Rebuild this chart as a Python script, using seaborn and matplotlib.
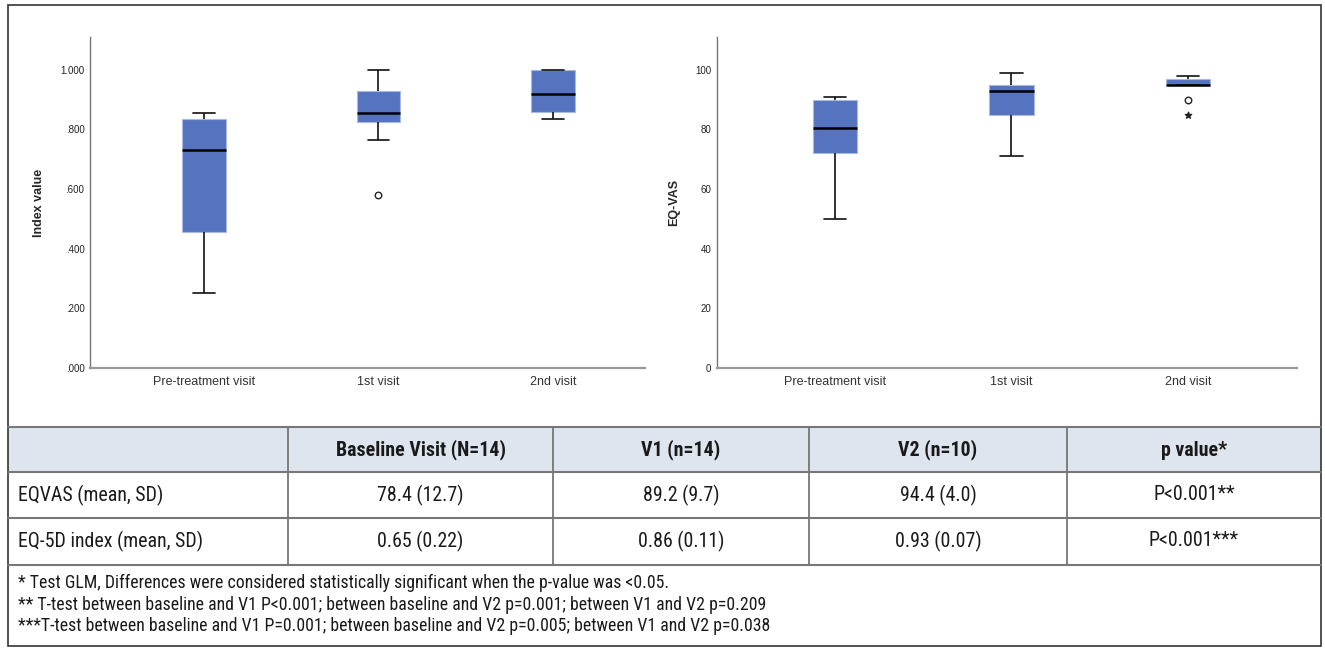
import numpy as np
import pandas as pd
import matplotlib
matplotlib.use('Agg')
import matplotlib.pyplot as plt
from matplotlib import font_manager as fm
from matplotlib.patches import Rectangle
import seaborn as sns

# ---- data -------------------------------------------------------------
visits = ['Pre-treatment visit', '1st visit', '2nd visit']

# EQ-5D index per patient (n=14, 14, 10)
index_pre = [0.25, 0.30, 0.40, 0.44, 0.50, 0.62, 0.72, 0.74, 0.78, 0.82, 0.84, 0.85, 0.85, 0.855]
index_v1 = [0.58, 0.765, 0.80, 0.82, 0.84, 0.845, 0.85, 0.86, 0.88, 0.92, 0.933, 0.95, 1.0, 1.0]
index_v2 = [0.835, 0.84, 0.855, 0.875, 0.90, 0.94, 1.0, 1.0, 1.0, 1.0]

# EQ-VAS per patient
vas_pre = [50, 60, 70, 71, 75, 78, 80, 81, 85, 90, 90, 90, 91, 91]
vas_v1 = [71, 75, 80, 85, 85, 90, 93, 93, 94, 95, 95, 97, 98, 99]
vas_v2 = [85, 90, 95, 95, 95, 95, 97, 97, 98, 98]

index_ticks = [0, 0.2, 0.4, 0.6, 0.8, 1.0]
index_ticklabels = ['.000', '.200', '.400', '.600', '.800', '1.000']
vas_ticks = [0, 20, 40, 60, 80, 100]
vas_ticklabels = ['0', '20', '40', '60', '80', '100']

header = ['', 'Baseline Visit (N=14)', 'V1 (n=14)', 'V2 (n=10)', 'p value*']
row_eqvas = ['EQVAS (mean, SD)', '78.4 (12.7)', '89.2 (9.7)', '94.4 (4.0)', 'P<0.001**']
row_eq5d = ['EQ-5D index (mean, SD)', '0.65 (0.22)', '0.86 (0.11)', '0.93 (0.07)', 'P<0.001***']
footnotes = [
    '* Test GLM, Differences were considered statistically significant when the p-value was <0.05.',
    '** T-test between baseline and V1 P<0.001; between baseline and V2 p=0.001; between V1 and V2 p=0.209',
    '***T-test between baseline and V1 P=0.001; between baseline and V2 p=0.005; between V1 and V2 p=0.038',
]

# ---- style ------------------------------------------------------------
sns.set_style('white')
plt.rcParams['font.family'] = ['Liberation Sans', 'DejaVu Sans']

# pick a condensed face for the table if one is around
fonts = fm.fontManager.ttflist
names = {f.name for f in fonts}
narrow_kw = None
for cand in ['Liberation Sans Narrow', 'Roboto Condensed', 'Arial Narrow', 'DejaVu Sans Condensed']:
    if cand in names:
        narrow_kw = dict(family=[cand, 'DejaVu Sans'])
        break
if narrow_kw is None:
    cond = [f for f in fonts if f.stretch in ('condensed', 'semi-condensed', 'extra-condensed', 'ultra-condensed')]
    if cond:
        narrow_kw = dict(family=[cond[0].name, 'DejaVu Sans'], fontstretch=cond[0].stretch)
    else:
        narrow_kw = dict(family=['Roboto', 'Liberation Sans', 'DejaVu Sans'], fontstretch='condensed')
TSIZE = 14.3
FSIZE = 12.8

BOX = '#5573be'
GRID = '#777777'
W, H = 1325, 648

fig = plt.figure(figsize=(W / 100, H / 100), dpi=100)


def px_rect(x0, y0, x1, y1):
    return [x0 / W, 1 - y1 / H, (x1 - x0) / W, (y1 - y0) / H]


def long_df(groups):
    return pd.DataFrame({'visit': np.repeat(visits, [len(g) for g in groups]),
                         'value': np.concatenate(groups)})


# background canvas in pixel coordinates for frame + table
bg = fig.add_axes([0, 0, 1, 1], zorder=0)
bg.set_xlim(0, W)
bg.set_ylim(H, 0)
bg.axis('off')

bg.add_patch(Rectangle((8, 427), 1313, 45, fc='#dfe5ee', ec='none'))
bg.add_patch(Rectangle((8, 5), 1313, 641, fill=False, ec='#333333', lw=1.2))
for yy in [427, 472, 518, 565]:
    bg.plot([8, 1321], [yy, yy], color=GRID, lw=1.5)
for xx in [288, 553, 809, 1067]:
    bg.plot([xx, xx], [427, 565], color=GRID, lw=1.3)

col_centers = [None, 420.5, 681, 938, 1194]
for j, txt in enumerate(header):
    if txt:
        bg.text(col_centers[j], 450, txt, ha='center', va='center', fontsize=TSIZE,
                fontweight='bold', color='#1a1a1a', **narrow_kw)
for yy, row in [(495, row_eqvas), (541, row_eq5d)]:
    bg.text(18, yy, row[0], ha='left', va='center', fontsize=TSIZE, color='#1a1a1a', **narrow_kw)
    for j in range(1, 5):
        bg.text(col_centers[j], yy, row[j], ha='center', va='center', fontsize=TSIZE,
                color='#1a1a1a', **narrow_kw)
for yy, txt in zip([583, 605, 626], footnotes):
    bg.text(18, yy, txt, ha='left', va='center', fontsize=FSIZE, color='#1a1a1a', **narrow_kw)


def draw_panel(rect, groups, ylim, ticks, ticklabels, ylabel, xlim):
    ax = fig.add_axes(rect, zorder=2)
    ax.set_facecolor('none')
    df = long_df(groups)
    sns.boxplot(data=df, x='visit', y='value', order=visits, ax=ax, width=0.25,
                color=BOX, saturation=1, showfliers=False, linecolor='#111111',
                linewidth=1.2,
                boxprops=dict(edgecolor='#a9b9e2', linewidth=0.8),
                medianprops=dict(color='black', linewidth=1.8))
    # SPSS style outliers: circle beyond 1.5 IQR, star beyond 3 IQR
    for i, g in enumerate(groups):
        g = np.asarray(g, dtype=float)
        q1, q3 = np.percentile(g, [25, 75])
        iqr = q3 - q1
        dist = np.maximum(q1 - g, g - q3)
        mild = g[(dist > 1.5 * iqr) & (dist <= 3 * iqr)]
        extreme = g[dist > 3 * iqr]
        ax.scatter(np.full(len(mild), i), mild, marker='o', s=22, facecolor='white',
                   edgecolor='#222222', linewidth=1.0, zorder=5)
        ax.scatter(np.full(len(extreme), i), extreme, marker='*', s=22, color='#222222', zorder=5)
    ax.set_xlim(*xlim)
    ax.set_ylim(*ylim)
    ax.set_yticks(ticks)
    ax.set_yticklabels(ticklabels, fontsize=7, color='#222222')
    ax.tick_params(axis='x', labelsize=9, colors='#333333', length=0, pad=6)
    ax.tick_params(axis='y', length=0, pad=4)
    ax.set_xlabel('')
    ax.set_ylabel(ylabel, fontsize=9, fontweight='bold', labelpad=11)
    sns.despine(ax=ax)
    ax.spines['left'].set_color('#777777')
    ax.spines['left'].set_linewidth(1.0)
    ax.spines['bottom'].set_color('#999999')
    ax.spines['bottom'].set_linewidth(1.6)
    return ax


draw_panel(px_rect(90, 37, 645, 368), [index_pre, index_v1, index_v2], (0, 1.11),
           index_ticks, index_ticklabels, 'Index value', (-0.653, 2.527))
draw_panel(px_rect(717, 37, 1297, 368), [vas_pre, vas_v1, vas_v2], (0, 111),
           vas_ticks, vas_ticklabels, 'EQ-VAS', (-0.669, 2.618))

fig.savefig('out.png', dpi=100)
